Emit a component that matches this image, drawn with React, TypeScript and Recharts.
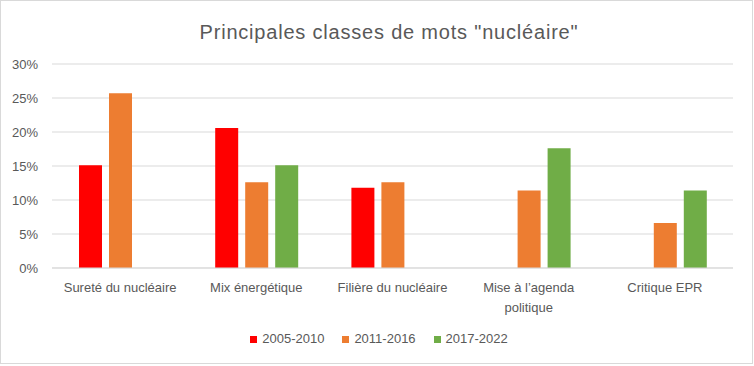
import React from "react";
import { BarChart, Bar, XAxis, YAxis, CartesianGrid, Text } from "recharts";

const categories = [
  "Sureté du nucléaire",
  "Mix énergétique",
  "Filière du nucléaire",
  "Mise à l’agenda politique",
  "Critique EPR",
];
const series2005 = [0.151, 0.206, 0.118, null, null];
const series2011 = [0.257, 0.126, 0.126, 0.114, 0.066];
const series2017 = [null, 0.151, null, 0.176, 0.114];
const seriesNames = ["2005-2010", "2011-2016", "2017-2022"];
const seriesColors = ["#FF0000", "#ED7D31", "#70AD47"];
const yTicks = [0, 0.05, 0.1, 0.15, 0.2, 0.25, 0.3];
const title = 'Principales classes de mots "nucléaire"';

const data = categories.map((c, i) => ({
  name: c,
  s1: series2005[i],
  s2: series2011[i],
  s3: series2017[i],
}));

const FONT = "'Liberation Sans', Arial, sans-serif";
const TEXT = "#595959";

const XTick = (props: any) => {
  const { x, y, payload } = props;
  return (
    <Text
      x={x}
      y={y + 15}
      width={130}
      textAnchor="middle"
      verticalAnchor="start"
      lineHeight={20}
      fill={TEXT}
      fontSize={13}
      fontFamily={FONT}
    >
      {payload.value}
    </Text>
  );
};

export default function App() {
  return (
    <div
      style={{
        position: "absolute",
        left: 0,
        top: 0,
        width: 754,
        height: 366,
        background: "#fff",
        fontFamily: FONT,
      }}
    >
      <div
        style={{
          position: "absolute",
          left: 0,
          top: 20,
          width: 754,
          paddingLeft: 24,
          boxSizing: "border-box",
          textAlign: "center",
          fontSize: 20,
          lineHeight: "24px",
          letterSpacing: 0.8,
          color: TEXT,
        }}
      >
        {title}
      </div>
      <BarChart
        width={754}
        height={366}
        data={data}
        margin={{ top: 64, right: 21, left: 0, bottom: 48 }}
        barSize={23}
        barGap={7}
      >
        <CartesianGrid vertical={false} stroke="#D9D9D9" />
        <XAxis
          dataKey="name"
          height={50}
          interval={0}
          tickLine={false}
          tickSize={0}
          tickMargin={0}
          axisLine={{ stroke: "#D9D9D9" }}
          tick={<XTick />}
        />
        <YAxis
          width={52}
          domain={[0, 0.3]}
          ticks={yTicks}
          axisLine={false}
          tickLine={false}
          tickSize={0}
          tickMargin={14}
          tickFormatter={(v: number) => `${Math.round(v * 100)}%`}
          tick={{ fill: TEXT, fontSize: 13, fontFamily: FONT }}
        />
        <Bar dataKey="s1" name={seriesNames[0]} fill={seriesColors[0]} isAnimationActive={false} />
        <Bar dataKey="s2" name={seriesNames[1]} fill={seriesColors[1]} isAnimationActive={false} />
        <Bar dataKey="s3" name={seriesNames[2]} fill={seriesColors[2]} isAnimationActive={false} />
      </BarChart>
      <div
        style={{
          position: "absolute",
          left: 0,
          top: 330,
          width: 758,
          display: "flex",
          justifyContent: "center",
          gap: 18,
          fontSize: 13,
          lineHeight: "18px",
          color: TEXT,
        }}
      >
        {seriesNames.map((n, i) => (
          <div key={n} style={{ display: "flex", alignItems: "center" }}>
            <span
              style={{
                display: "inline-block",
                width: 7,
                height: 7,
                background: seriesColors[i],
                marginRight: 5,
              }}
            />
            <span>{n}</span>
          </div>
        ))}
      </div>
      <div
        style={{
          position: "absolute",
          left: 0,
          top: 0,
          width: 753,
          height: 364,
          border: "1px solid #D9D9D9",
          boxSizing: "border-box",
          pointerEvents: "none",
        }}
      />
    </div>
  );
}
